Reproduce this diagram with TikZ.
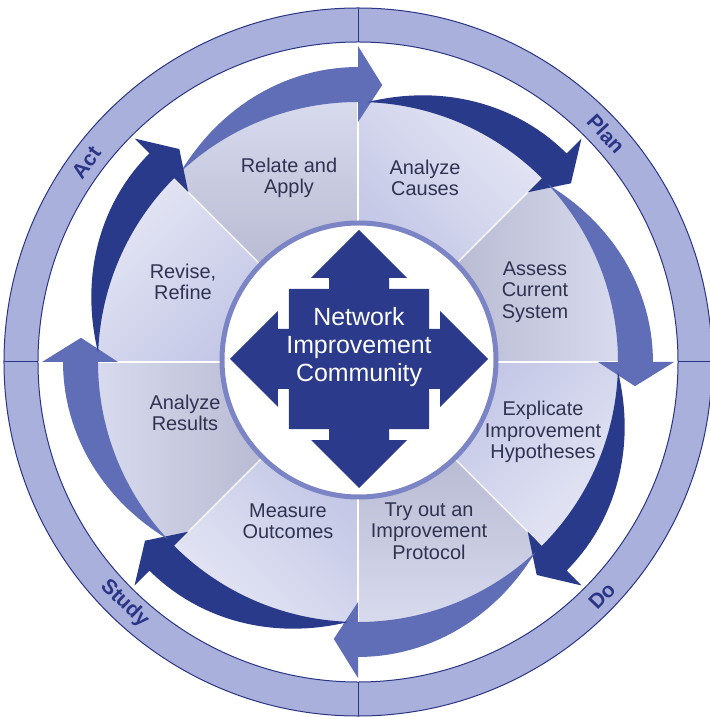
\documentclass[tikz,border=0pt]{standalone}
\usepackage{fontspec}
\setmainfont{Liberation Sans}
\definecolor{ringblue}{HTML}{A9B0DB}
\definecolor{navy}{HTML}{2B3585}
\definecolor{midarrow}{HTML}{5F6EB7}
\definecolor{darkarrow}{HTML}{293A8B}
\definecolor{crossblue}{HTML}{2B3A8A}
\definecolor{rimblue}{HTML}{7B85C6}
\definecolor{greydark}{HTML}{A6A9C2}
\definecolor{greylight}{HTML}{D8DAEE}
\definecolor{lavdark}{HTML}{B9BDE1}
\definecolor{lavlight}{HTML}{E3E5F4}
\definecolor{textgrey}{HTML}{2F3350}
% one step of the cycle: slice from angle #1 to #1+45, light end at #1
\newcommand\stepwedge[4]{%
  \shade[top color=#3,bottom color=#4,shading angle=#2] (0,0)--(#1:262)
    arc[start angle=#1,end angle=#1+45,radius=262bp]--cycle;}
% curved arrow from tail angle #1 clockwise to head angle #2
\newcommand\cyclearrow[3]{%
  \fill[#3] (#1:260) arc[start angle=#1,end angle=#2,radius=260bp]
    --(#2:240)--({#2-5}:278)--(#2:316)--(#2:295)
    --plot[domain=#2:#1,samples=30](\x:{260+35*sin(90*(#1-\x)/(#1-#2))})--cycle;}
\begin{document}
\begin{tikzpicture}[x=1bp,y=1bp,
    steptext/.style={text=textgrey,align=center,font=\fontsize{20}{21.5}\selectfont},
    phase/.style={text=navy,font=\bfseries\fontsize{21}{21}\selectfont}]
\useasboundingbox (-358,-355) rectangle (352,362);
\clip (-358,-355) rectangle (352,362);
% outer ring
\fill[ringblue,even odd rule] (0,0) circle[radius=354bp] circle[radius=320bp];
\draw[navy,line width=1bp] (0,0) circle[radius=354bp] (0,0) circle[radius=320bp];
\foreach \a in {0,90,180,270}
  \draw[navy,line width=1bp] (\a:320)--(\a:354);
\node[phase,rotate=-47.4] (plan) at (42.6:337) {Plan};
\node[phase,rotate=46.2] (do) at (-43.8:338) {Do};
\node[phase,rotate=-44] (study) at (-134:336) {Study};
\node[phase,rotate=53.7] (act) at (143.7:337) {Act};
% eight steps
\stepwedge{90}{0}{greylight}{greydark}
\stepwedge{45}{-45}{lavlight}{lavdark}
\stepwedge{0}{-90}{greylight}{greydark}
\stepwedge{-45}{-135}{lavlight}{lavdark}
\stepwedge{-90}{-180}{greylight}{greydark}
\stepwedge{-135}{-225}{lavlight}{lavdark}
\stepwedge{180}{90}{greylight}{greydark}
\stepwedge{135}{45}{lavlight}{lavdark}
\foreach \a in {0,45,...,315}
  \draw[white,line width=1.2bp] (0,0)--(\a:262);
% arrows round the steps
\cyclearrow{133}{90}{midarrow}
\cyclearrow{88}{45}{darkarrow}
\cyclearrow{43}{0}{midarrow}
\cyclearrow{-2}{-45}{darkarrow}
\cyclearrow{-47}{-90}{midarrow}
\cyclearrow{-92}{-135}{darkarrow}
\cyclearrow{223}{180}{midarrow}
\cyclearrow{178}{135}{darkarrow}
\node[steptext] (relate) at (-69,184) {Relate and\\Apply};
\node[steptext] (causes) at (67,184) {Analyze\\Causes};
\node[steptext] (assess) at (177,70) {Assess\\Current\\System};
\node[steptext] (explicate) at (185,-70) {Explicate\\Improvement\\Hypotheses};
\node[steptext] (tryout) at (71,-169) {Try out an\\Improvement\\Protocol};
\node[steptext] (measure) at (-70,-159) {Measure\\Outcomes};
\node[steptext] (results) at (-173,-51) {Analyze\\Results};
\node[steptext] (revise) at (-175,80) {Revise,\\Refine};
% centre
\filldraw[fill=white,draw=rimblue,line width=5bp] (1,2) circle[radius=137bp];
\fill[crossblue,shift={(1,3)}] (0,129)--(48,81)--(30,81)--(30,70)--(70,70)--(70,30)
  --(81,30)--(81,48)--(129,0)--(81,-48)--(81,-30)--(70,-30)--(70,-70)--(30,-70)
  --(30,-81)--(48,-81)--(0,-129)--(-48,-81)--(-30,-81)--(-30,-70)--(-70,-70)
  --(-70,-30)--(-81,-30)--(-81,-48)--(-129,0)--(-81,48)--(-81,30)--(-70,30)
  --(-70,70)--(-30,70)--(-30,81)--(-48,81)--cycle;
\node[text=white,align=center,font=\fontsize{25}{28.5}\selectfont] (nic) at (1,15)
  {Network\\Improvement\\Community};
\end{tikzpicture}
\end{document}
